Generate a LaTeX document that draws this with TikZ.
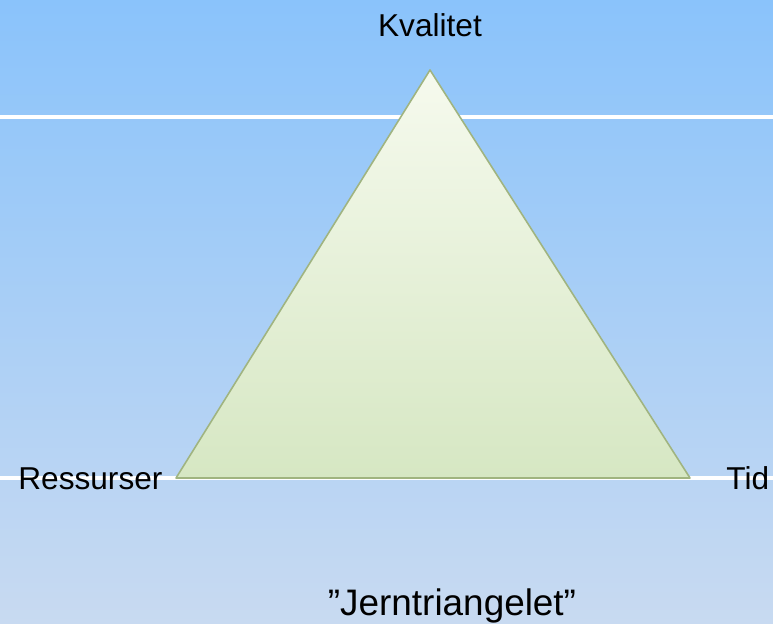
\documentclass[tikz,border=0pt]{standalone}
\usepackage{fontspec}
\setmainfont{Liberation Sans}
\usepackage{xcolor}
\usetikzlibrary{positioning,calc}
\definecolor{skytop}{RGB}{138,195,251}
\definecolor{skybottom}{RGB}{200,218,241}
\definecolor{trifilltop}{RGB}{246,250,238}
\definecolor{trifillbottom}{RGB}{214,231,195}
\definecolor{triedge}{RGB}{160,180,128}

\begin{document}
\begin{tikzpicture}[x=0.02cm,y=-0.02cm,
    cornerlabel/.style={font=\fontsize{18}{22}\selectfont,inner sep=0pt}]
  % background with soft vertical gradient
  \useasboundingbox (0,0) rectangle (773,623);
  \shade[top color=skytop,bottom color=skybottom] (0,0) rectangle (773,623);
  % white guide lines
  \draw[white,line width=2.3pt] (0,117) -- (773,117);
  \draw[white,line width=2.3pt] (0,478) -- (773,478);
  % triangle corners
  \coordinate (top) at (430,70);
  \coordinate (left) at (176,478);
  \coordinate (right) at (690,478);
  % iron triangle
  \shade[top color=trifilltop,bottom color=trifillbottom,draw=triedge,line width=0.9pt,line join=round]
    (top) -- (left) -- (right) -- cycle;
  % corner labels
  \node[cornerlabel,anchor=base] (quality) at (430,36) {Kvalitet};
  \node[cornerlabel,anchor=base west] (resources) at (18,489) {Ressurser};
  \node[cornerlabel,anchor=base west] (time) at (726,489) {Tid};
  % caption
  \node[font=\fontsize{21}{25}\selectfont,inner sep=0pt,anchor=base] (caption) at (452,615) {”Jerntriangelet”};
\end{tikzpicture}
\end{document}
